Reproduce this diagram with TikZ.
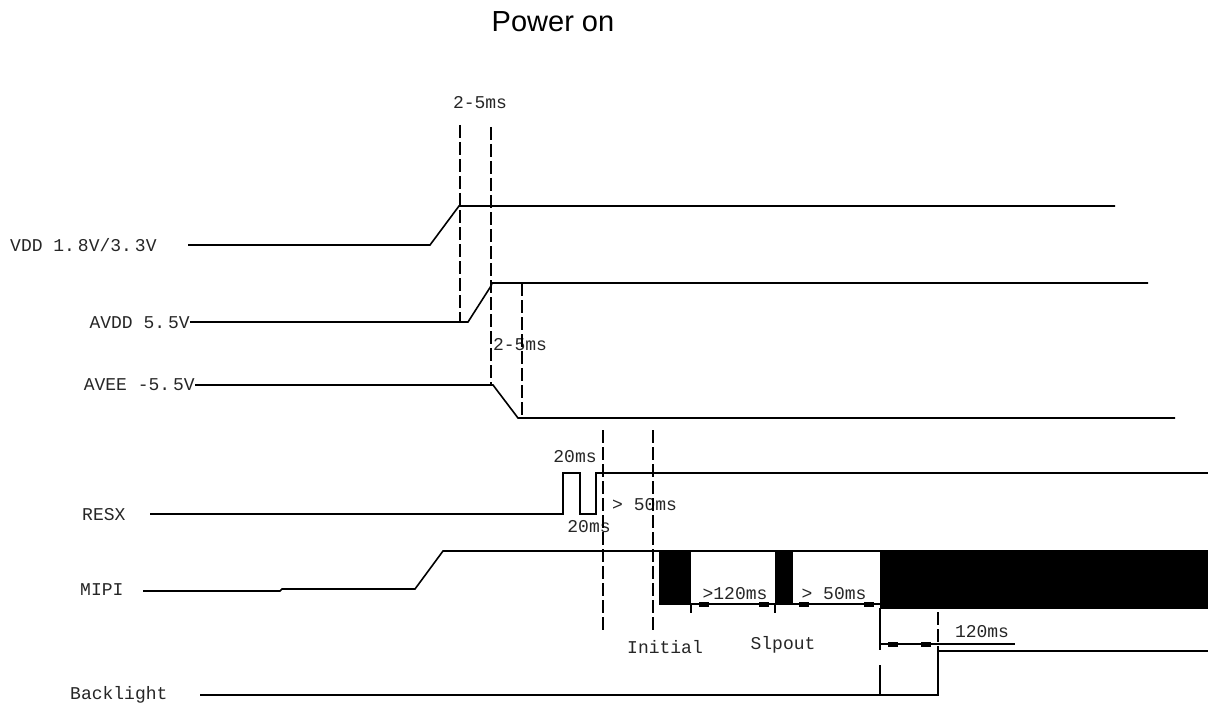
\documentclass[tikz,border=0pt]{standalone}
\usepackage{fontspec}
\setmainfont{Liberation Sans}
\newfontfamily\monof{Liberation Mono}
\begin{document}
\begin{tikzpicture}[x=1pt,y=-1pt,
  wave/.style={line width=1.6pt,black},
  dimline/.style={line width=1.4pt,black},
  guide/.style={line width=1.4pt,black,dash pattern=on 13pt off 4pt},
  lbl/.style={font=\monof\fontsize{18}{20}\selectfont,text=black!85,inner sep=0pt},
  tickbox/.style={fill=black,draw=none},
  blk/.style={fill=black,draw=black,line width=1pt}]
\useasboundingbox (0,0) rectangle (1208,706);
\fill[white] (0,0) rectangle (1208,706);
% title
\node[font=\fontsize{29}{31}\selectfont,inner sep=0pt] (title) at (553,22) {Power on};
% labels
\node[lbl,anchor=west] (vddlbl) at (10,245) {VDD 1.\,8V/3.\,3V};
\node[lbl,anchor=east] (avddlbl) at (190,323) {AVDD 5.\,5V};
\node[lbl,anchor=east] (aveelbl) at (195,385) {AVEE -5.\,5V};
\node[lbl,anchor=west] (resxlbl) at (82,515) {RESX};
\node[lbl,anchor=west] (mipilbl) at (80,590) {MIPI};
\node[lbl,anchor=west] (bllbl) at (70,695) {Backlight};
% timing labels
\node[lbl] (t25a) at (480,103) {2-5ms};
\node[lbl] (t25b) at (520,345) {2-5ms};
\node[lbl] (t20a) at (575,457) {20ms};
\node[lbl] (t20b) at (589,527) {20ms};
\node[lbl,anchor=west] (t50a) at (612,505) {> 50ms};
\node[lbl] (t120a) at (735,594) {>120ms};
\node[lbl] (t50b) at (834,594) {> 50ms};
\node[lbl] (init) at (665,647) {Initial};
\node[lbl] (slp) at (783,645) {Slpout};
\node[lbl] (t120b) at (982,632) {120ms};
% VDD
\draw[wave] (188,245) -- (430,245) -- (459,206) -- (1115,206);
% AVDD
\draw[wave] (190,322) -- (468,322) -- (491,286) -- (492,283) -- (1148,283);
% AVEE
\draw[wave] (195,385) -- (493,385) -- (518,418) -- (1175,418);
% guides top
\draw[guide] (460,125) -- (460,322);
\draw[guide] (491,127) -- (491,385);
\draw[guide] (522,283) -- (522,418);
% RESX
\draw[wave] (150,514) -- (563,514) -- (563,473) -- (580,473) -- (580,514) -- (596,514) -- (596,473) -- (1208,473);
% RESX guides
\draw[guide] (603,430) -- (603,630);
\draw[guide] (653,430) -- (653,630);
% MIPI
\draw[wave] (143,591) -- (280,591) -- (282,589) -- (415,589) -- (443,551) -- (1208,551);
\draw[blk] (659,551) rectangle (690,604);
\draw[blk] (775,551) rectangle (792,604);
\draw[blk] (880,552) rectangle (1208,608);
% MIPI dimension lines
\draw[dimline] (690,604) -- (775,604);
\draw[dimline] (691,604) -- (691,613);
\draw[dimline] (775,604) -- (775,613);
\draw[dimline] (792,604) -- (880,604);
\fill[tickbox] (699,602) rectangle (709,607);
\fill[tickbox] (759,602) rectangle (769,607);
\fill[tickbox] (799,602) rectangle (809,607);
\fill[tickbox] (864,602) rectangle (874,607);
% Backlight
\draw[wave] (200,695) -- (880,695);
\draw[wave] (880,608) -- (880,650);
\draw[wave] (880,665) -- (880,695) -- (938,695) -- (938,651) -- (1208,651);
\draw[guide] (938,612) -- (938,651);
\draw[dimline] (880,644) -- (1015,644);
\fill[tickbox] (888,642) rectangle (898,647);
\fill[tickbox] (921,642) rectangle (931,647);
\end{tikzpicture}
\end{document}
